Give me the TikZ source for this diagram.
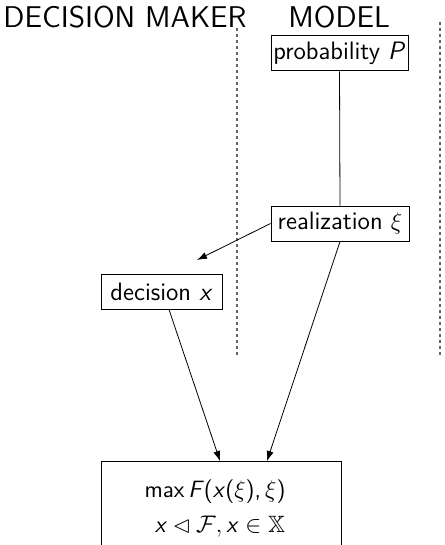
\documentclass[tikz,border=0pt]{standalone}
\usepackage{amssymb}
\usetikzlibrary{calc,arrows.meta}
\renewcommand{\familydefault}{\sfdefault}
\newcommand{\sfx}{\mbox{\textit{x}}}
\begin{document}
\begin{tikzpicture}[x=0.5pt,y=-0.5pt,
  box/.style={draw,line width=0.5pt,inner sep=0pt,minimum height=17.5pt,font=\fontsize{12.6}{15}\selectfont\sffamily},
  head/.style={anchor=base west,inner sep=0pt,font=\fontsize{15}{18}\selectfont\sffamily},
  sep/.style={draw=black!60,line width=0.6pt,dash pattern=on 1.3pt off 1.7pt},
  conn/.style={line width=0.4pt},
  lab/.style={inner sep=0pt,font=\fontsize{11.8}{14}\selectfont\sffamily},
  arr/.style={conn,-{Latex[length=5pt,width=3.5pt]}}]
\useasboundingbox (0,0) rectangle (444,545);
\clip (0,0) rectangle (444,545);
\node[head] (hdm) at (3,28) {DECISION MAKER};
\node[head] (hmo) at (288,28) {MODEL};
\coordinate (s1t) at (237,28); \coordinate (s1b) at (237,355);
\coordinate (s2t) at (440,22); \coordinate (s2b) at (440,355);
\draw[sep] (s1t) -- (s1b);
\draw[sep] (s2t) -- (s2b);
\node[box,minimum width=68.5pt] (prob) at (339.5,53.5) {probability \textit{P}};
\node[box,minimum width=69pt] (real) at (340,223.5) {realization \fontsize{12}{14}\selectfont$\xi$};
\node[box,minimum width=60.5pt] (dec) at (161.5,291.5) {decision \textit{x}};
\node[draw,line width=0.5pt,minimum width=120pt,minimum height=55pt,anchor=north,inner sep=0pt] (bot) at (221,461) {};
\node[lab] (l1) at (215,492) {max\,\textit{F}(\textit{x}($\xi$),\,$\xi$)};
\node[lab] (l2) at (220,527) {$\sfx\lhd\mathcal{F},\sfx\in\mathbb{X}$};
\coordinate (decend) at (197,260);
\draw[conn] (prob.south) -- (real.north);
\draw[arr] (real.west) -- (decend);
\draw[arr] ($(dec.south)+(7.5,0)$) -- ($(bot.north)+(-1,0)$);
\draw[arr] (real.south) -- ($(bot.north)+(46,0)$);
\end{tikzpicture}
\end{document}
